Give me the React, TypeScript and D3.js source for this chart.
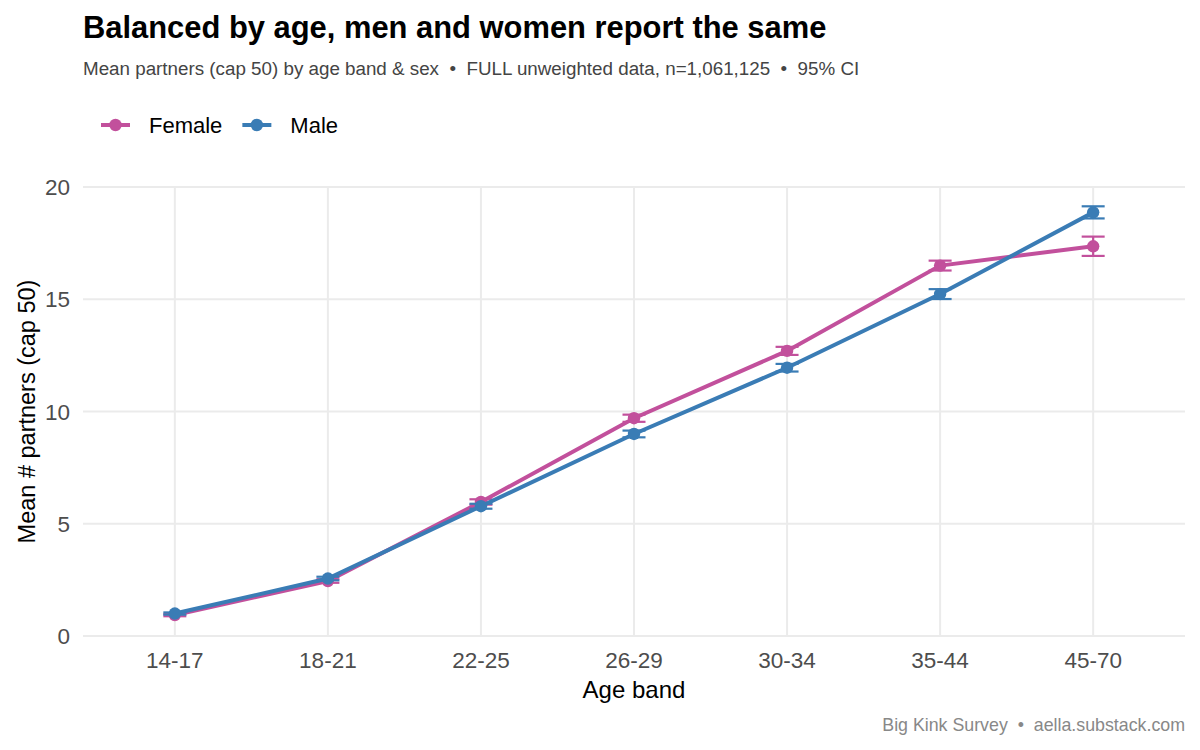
import React, { useEffect, useRef } from "react";
import * as d3 from "d3";

// Mean partners (cap 50) by age band, with 95% CI half-widths
const ageBands = ["14-17", "18-21", "22-25", "26-29", "30-34", "35-44", "45-70"];
const femaleMean = [0.93, 2.45, 5.97, 9.7, 12.7, 16.5, 17.36];
const femaleCI = [0.05, 0.08, 0.12, 0.16, 0.18, 0.22, 0.43];
const maleMean = [1.0, 2.56, 5.78, 9.0, 11.95, 15.23, 18.87];
const maleCI = [0.05, 0.08, 0.11, 0.15, 0.17, 0.22, 0.27];
const yTicks = [0, 5, 10, 15, 20];

const series = [
  { name: "Female", color: "#c2509c", mean: femaleMean, ci: femaleCI },
  { name: "Male", color: "#3a7cb5", mean: maleMean, ci: maleCI },
];

const FONT = "'Liberation Sans', Arial, sans-serif";
const SEP = "\u00a0\u00a0\u2022\u00a0\u00a0";

const App = () => {
  const svgRef = useRef<SVGSVGElement>(null);

  useEffect(() => {
    document.body.style.margin = "0";
    const width = 1200;
    const height = 750;
    const margin = { top: 187, right: 15, bottom: 114, left: 83 };

    const svg = d3.select(svgRef.current);
    svg.selectAll("*").remove();
    svg.attr("width", width).attr("height", height).style("font-family", FONT);

    svg.append("rect").attr("width", width).attr("height", height).attr("fill", "white");

    // discrete x with 0.6-step padding on each side
    const step = (width - margin.right - margin.left) / (ageBands.length - 1 + 1.2);
    const xScale = d3.scalePoint<string>()
      .domain(ageBands)
      .range([margin.left + 0.6 * step, width - margin.right - 0.6 * step]);

    const yScale = d3.scaleLinear()
      .domain([0, 20])
      .range([height - margin.bottom, margin.top]);

    // Grid
    const grid = svg.append("g").attr("stroke", "#ebebeb").attr("stroke-width", 2);
    yTicks.forEach(t => {
      grid.append("line")
        .attr("x1", margin.left).attr("x2", width - margin.right)
        .attr("y1", yScale(t)).attr("y2", yScale(t));
    });
    ageBands.forEach(b => {
      grid.append("line")
        .attr("x1", xScale(b)!).attr("x2", xScale(b)!)
        .attr("y1", yScale(20)).attr("y2", yScale(0));
    });

    // Tick labels
    svg.append("g").selectAll("text")
      .data(yTicks)
      .join("text")
      .attr("x", 70)
      .attr("y", d => yScale(d))
      .attr("dy", "0.36em")
      .attr("text-anchor", "end")
      .attr("fill", "#4d4d4d")
      .style("font-size", "22.5px")
      .text(d => d);

    svg.append("g").selectAll("text")
      .data(ageBands)
      .join("text")
      .attr("x", d => xScale(d)!)
      .attr("y", 668)
      .attr("text-anchor", "middle")
      .attr("fill", "#4d4d4d")
      .style("font-size", "22.5px")
      .text(d => d);

    // Axis titles
    svg.append("text")
      .attr("x", (margin.left + width - margin.right) / 2)
      .attr("y", 698)
      .attr("text-anchor", "middle")
      .style("font-size", "24px")
      .text("Age band");

    svg.append("text")
      .attr("transform", `translate(35,${(yScale(0) + yScale(20)) / 2}) rotate(-90)`)
      .attr("text-anchor", "middle")
      .style("font-size", "23.5px")
      .text("Mean # partners (cap 50)");

    // Lines, error bars, points
    const line = d3.line<number>()
      .x((_, i) => xScale(ageBands[i])!)
      .y(d => yScale(d));

    series.forEach(s => {
      const g = svg.append("g");
      g.append("path")
        .datum(s.mean)
        .attr("d", line)
        .attr("fill", "none")
        .attr("stroke", s.color)
        .attr("stroke-width", 4);

      s.mean.forEach((m, i) => {
        const x = xScale(ageBands[i])!;
        const lo = yScale(m - s.ci[i]);
        const hi = yScale(m + s.ci[i]);
        const eb = g.append("g").attr("stroke", s.color).attr("stroke-width", 2.2);
        eb.append("line").attr("x1", x).attr("x2", x).attr("y1", lo).attr("y2", hi);
        eb.append("line").attr("x1", x - 11.5).attr("x2", x + 11.5).attr("y1", lo).attr("y2", lo);
        eb.append("line").attr("x1", x - 11.5).attr("x2", x + 11.5).attr("y1", hi).attr("y2", hi);
        g.append("circle")
          .attr("cx", x).attr("cy", yScale(m)).attr("r", 6.2)
          .attr("fill", s.color);
      });
    });

    // Title block
    svg.append("text")
      .attr("x", 83).attr("y", 38)
      .style("font-size", "30.9px")
      .style("font-weight", "bold")
      .text("Balanced by age, men and women report the same");

    svg.append("text")
      .attr("x", 83).attr("y", 75)
      .attr("fill", "#444")
      .style("font-size", "18.8px")
      .text(`Mean partners (cap 50) by age band & sex${SEP}FULL unweighted data, n=1,061,125${SEP}95% CI`);

    // Legend
    const legend = svg.append("g").attr("transform", "translate(0,125)");
    let lx = 101;
    series.forEach(s => {
      const row = legend.append("g").attr("transform", `translate(${lx},0)`);
      row.append("line").attr("x1", 0).attr("x2", 29).attr("stroke", s.color).attr("stroke-width", 4);
      row.append("circle").attr("cx", 14.5).attr("r", 6.2).attr("fill", s.color);
      const t = row.append("text")
        .attr("x", 48).attr("dy", "0.36em")
        .style("font-size", "22px")
        .text(s.name);
      lx += 48 + (t.node() as SVGTextElement).getComputedTextLength() + 20;
    });

    // Caption
    svg.append("text")
      .attr("x", width - 15).attr("y", 731)
      .attr("text-anchor", "end")
      .attr("fill", "#888")
      .style("font-size", "17.8px")
      .text(`Big Kink Survey${SEP}aella.substack.com`);
  }, []);

  return (
    <div style={{ width: 1200, height: 750 }}>
      <svg ref={svgRef} style={{ display: "block" }}></svg>
    </div>
  );
};

export default App;
